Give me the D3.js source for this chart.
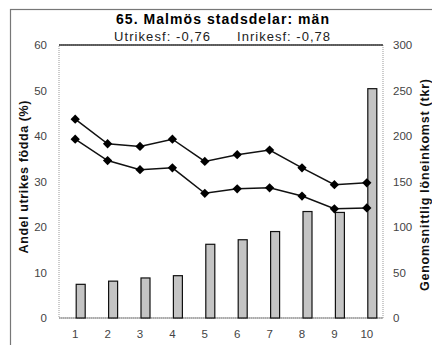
<!DOCTYPE html>
<html>
<head>
<meta charset="utf-8">
<script src="https://cdn.jsdelivr.net/npm/d3@7"></script>
<style>
  body { margin: 0; background: #fff; }
  svg { display: block; font-family: "Liberation Sans", Arial, sans-serif; }
</style>
</head>
<body>
<div id="chart"></div>
<script>
// stadsdelar 1-10
const stadsdelar = ['1', '2', '3', '4', '5', '6', '7', '8', '9', '10'];
// genomsnittlig löneinkomst (tkr), höger axel
const inkomst = [37, 40.5, 44, 46.5, 81, 86, 95, 117, 116, 252];
// andel utrikes födda (%), vänster axel
const utrikesf = [43.7, 38.3, 37.7, 39.3, 34.4, 35.9, 36.9, 33.0, 29.3, 29.7];
const inrikesf = [39.3, 34.6, 32.6, 33.0, 27.4, 28.4, 28.6, 26.8, 24.0, 24.2];
const leftTicks = [0, 10, 20, 30, 40, 50, 60];
const rightTicks = [0, 50, 100, 150, 200, 250, 300];

const W = 432, H = 345;
const margin = { top: 45, right: 49, bottom: 27, left: 59 };
const width = W - margin.left - margin.right;
const height = H - margin.top - margin.bottom;

const svg = d3.select('#chart').append('svg')
  .attr('width', W)
  .attr('height', H);

// yttre ram
svg.append('rect')
  .attr('x', 10.5).attr('y', 9.5)
  .attr('width', 440).attr('height', 360)
  .attr('fill', 'none')
  .attr('stroke', '#777')
  .attr('stroke-width', 1.2);

svg.append('text')
  .attr('x', 116).attr('y', 24)
  .attr('textLength', 213)
  .attr('lengthAdjust', 'spacing')
  .style('font-weight', 'bold')
  .style('font-size', '14px')
  .text('65. Malmös stadsdelar: män');

svg.append('text')
  .attr('x', 114).attr('y', 41)
  .attr('textLength', 96)
  .attr('lengthAdjust', 'spacing')
  .style('font-size', '13px')
  .attr('fill', '#222')
  .text('Utrikesf: -0,76');

svg.append('text')
  .attr('x', 237).attr('y', 41)
  .attr('textLength', 93)
  .attr('lengthAdjust', 'spacing')
  .style('font-size', '13px')
  .attr('fill', '#222')
  .text('Inrikesf: -0,78');

const g = svg.append('g')
  .attr('transform', `translate(${margin.left}, ${margin.top})`);

const x = d3.scaleBand()
  .domain(stadsdelar)
  .range([0, width]);

const yLeft = d3.scaleLinear()
  .domain([0, 60])
  .range([height, 0]);

const yRight = d3.scaleLinear()
  .domain([0, 300])
  .range([height, 0]);

// plot area border
g.append('rect')
  .attr('x', 0).attr('y', 0)
  .attr('width', width).attr('height', height)
  .attr('fill', 'none')
  .attr('stroke', '#999')
  .attr('stroke-dasharray', '1,1');

g.append('line')
  .attr('x1', 0).attr('x2', width)
  .attr('y1', 0).attr('y2', 0)
  .attr('stroke', '#333')
  .attr('stroke-width', 1.5);

g.append('line')
  .attr('x1', 0).attr('x2', width)
  .attr('y1', height).attr('y2', height)
  .attr('stroke', '#888')
  .attr('stroke-width', 1.2);

// axes
const leftAxis = g.append('g')
  .call(d3.axisLeft(yLeft).tickValues(leftTicks).tickSize(0).tickPadding(12));

const rightAxis = g.append('g')
  .attr('transform', `translate(${width}, 0)`)
  .call(d3.axisRight(yRight).tickValues(rightTicks).tickSize(0).tickPadding(10));

const bottomAxis = g.append('g')
  .attr('transform', `translate(0, ${height})`)
  .call(d3.axisBottom(x).tickSize(0).tickPadding(12));

[leftAxis, rightAxis, bottomAxis].forEach(a => {
  a.select('.domain').remove();
  a.selectAll('text')
    .style('font-size', '11.5px')
    .style('font-family', '"Liberation Sans", Arial, sans-serif')
    .attr('fill', '#444');
});

// bars
const barW = 9;
g.selectAll('.bar')
  .data(inkomst)
  .enter()
  .append('rect')
  .attr('class', 'bar')
  .attr('x', (d, i) => x(stadsdelar[i]) + x.bandwidth() / 2 + 1)
  .attr('y', d => yRight(d))
  .attr('width', barW)
  .attr('height', d => height - yRight(d))
  .attr('fill', '#c4c4c4')
  .attr('stroke', '#111')
  .attr('stroke-width', 1.2);

// lines
const line = d3.line()
  .x((d, i) => x(stadsdelar[i]) + x.bandwidth() / 2)
  .y(d => yLeft(d));

const diamond = d3.symbol().type(d3.symbolDiamond2).size(55);

[utrikesf, inrikesf].forEach(serie => {
  g.append('path')
    .datum(serie)
    .attr('d', line)
    .attr('fill', 'none')
    .attr('stroke', '#111')
    .attr('stroke-width', 1.5);

  g.selectAll(null)
    .data(serie)
    .enter()
    .append('path')
    .attr('d', diamond)
    .attr('transform', (d, i) => `translate(${x(stadsdelar[i]) + x.bandwidth() / 2}, ${yLeft(d)})`)
    .attr('fill', '#000');
});

// axis titles
svg.append('text')
  .attr('transform', 'translate(28, 177) rotate(-90)')
  .attr('text-anchor', 'middle')
  .attr('textLength', 153)
  .attr('lengthAdjust', 'spacing')
  .style('font-weight', 'bold')
  .style('font-size', '12.5px')
  .attr('fill', '#111')
  .text('Andel utrikes födda (%)');

svg.append('text')
  .attr('transform', 'translate(429, 185) rotate(-90)')
  .attr('text-anchor', 'middle')
  .attr('textLength', 212)
  .attr('lengthAdjust', 'spacing')
  .style('font-weight', 'bold')
  .style('font-size', '12.5px')
  .attr('fill', '#111')
  .text('Genomsnittlig löneinkomst (tkr)');
</script>
</body>
</html>
